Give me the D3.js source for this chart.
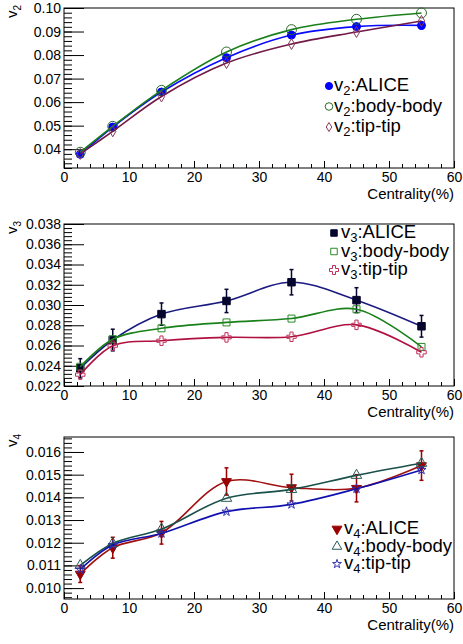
<!DOCTYPE html>
<html>
<head>
<meta charset="utf-8">
<script src="https://cdn.jsdelivr.net/npm/d3@7"></script>
<style>
body { margin: 0; background: #fff; }
svg { display: block; font-family: "Liberation Sans", Arial, sans-serif; }
</style>
</head>
<body>
<div id="chart"></div>
<script>
// Centrality bins (%)
const centrality = [2.5, 7.5, 15, 25, 35, 45, 55];

// v2
const v2Alice    = [0.0378, 0.0494, 0.0643, 0.0789, 0.0885, 0.0921, 0.0926];
const v2AliceErr = [0.0007, 0.0007, 0.0008, 0.0009, 0.0010, 0.0010, 0.0015];
const v2Body     = [0.0387, 0.0497, 0.0650, 0.0813, 0.0908, 0.0952, 0.0979];
const v2Tip      = [0.0380, 0.0476, 0.0624, 0.0766, 0.0847, 0.0898, 0.0945];

// v3
const v3Alice    = [0.02375, 0.02654, 0.02910, 0.03040, 0.03225, 0.03048, 0.02790];
const v3AliceErr = [0.00095, 0.00107, 0.00110, 0.00115, 0.00125, 0.00123, 0.00107];
const v3Body     = [0.02390, 0.02662, 0.02770, 0.02828, 0.02866, 0.02958, 0.02586];
const v3Tip      = [0.02312, 0.02598, 0.02647, 0.02680, 0.02686, 0.02804, 0.02533];

// v4
const v4Alice    = [0.01062, 0.01178, 0.01244, 0.01470, 0.01443, 0.01440, 0.01540];
const v4AliceErr = [0.00037, 0.00046, 0.00050, 0.00060, 0.00059, 0.00060, 0.00065];
const v4Body     = [0.01100, 0.01197, 0.01260, 0.01396, 0.01435, 0.01497, 0.01550];
const v4Tip      = [0.01082, 0.01190, 0.01241, 0.01337, 0.01369, 0.01438, 0.01521];

const xTicks = [0, 10, 20, 30, 40, 50, 60];
const xMinor = d3.range(0, 31).map(d => d * 2);

const W = 463, H = 644;
const svg = d3.select("#chart")
  .append("svg")
  .attr("width", W)
  .attr("height", H);

const x = d3.scaleLinear().domain([0, 60]).range([64, 454]);

// marker shapes
const sym = (type, size) => d3.symbol().type(type).size(size)();
const diamond = "M0,-5.5L3.2,0L0,5.5L-3.2,0Z";

const panels = [
  {
    n: "2", top: 8, bottom: 168, domain: [0.032, 0.1],
    major: d3.range(4, 11).map(d => d / 100),
    minor: d3.range(16, 51).map(d => d * 0.002),
    fmt: ".2f",
    legend: { mx: 329, tx: 334, y: 91, dy: 20.5 },
    series: [
      { label: "ALICE", values: v2Alice, err: v2AliceErr, color: "#0000ff", line: "#0a0aff",
        path: sym(d3.symbolCircle, 50), fill: true, lpath: sym(d3.symbolCircle, 40) },
      { label: "body-body", values: v2Body, color: "#2a6a2a", line: "#1a801a",
        path: sym(d3.symbolCircle, 78), fill: false, lpath: sym(d3.symbolCircle, 45) },
      { label: "tip-tip", values: v2Tip, color: "#8a3a5a", line: "#701a48",
        path: diamond, fill: false, lpath: "M0,-4.5L2.8,0L0,4.5L-2.8,0Z" }
    ]
  },
  {
    n: "3", top: 224, bottom: 386, domain: [0.022, 0.038],
    major: d3.range(11, 20).map(d => d * 0.002),
    minor: d3.range(55, 96).map(d => d * 0.0004),
    fmt: ".3f",
    legend: { mx: 334, tx: 341, y: 238, dy: 18.5 },
    series: [
      { label: "ALICE", values: v3Alice, err: v3AliceErr, color: "#05052e", line: "#1a1a80",
        path: sym(d3.symbolSquare, 56), fill: true, lpath: sym(d3.symbolSquare, 42) },
      { label: "body-body", values: v3Body, color: "#2a8a2a", line: "#1a801a",
        path: sym(d3.symbolSquare, 49), fill: false, lpath: sym(d3.symbolSquare, 42) },
      { label: "tip-tip", values: v3Tip, color: "#c0305a", line: "#b01040",
        path: sym(d3.symbolCross, 50), fill: false, lpath: sym(d3.symbolCross, 45) }
    ]
  },
  {
    n: "4", top: 437, bottom: 599, domain: [0.00952, 0.01666],
    major: d3.range(10, 17).map(d => d / 1000),
    minor: d3.range(48, 84).map(d => d * 0.0002),
    fmt: ".3f",
    legend: { mx: 337, tx: 344, y: 534, dy: 17.5 },
    series: [
      { label: "ALICE", values: v4Alice, err: v4AliceErr, color: "#990000", line: "#a01010",
        path: sym(d3.symbolTriangle, 42), fill: true, rot: 180, lpath: sym(d3.symbolTriangle, 42) },
      { label: "body-body", values: v4Body, color: "#2a5a55", line: "#1a504a",
        path: sym(d3.symbolTriangle, 48), fill: false, lpath: sym(d3.symbolTriangle, 40) },
      { label: "tip-tip", values: v4Tip, color: "#3030b0", line: "#1010b0",
        path: sym(d3.symbolStar, 26), fill: false, lpath: sym(d3.symbolStar, 24) }
    ]
  }
];

panels.forEach(p => {
  const y = d3.scaleLinear().domain(p.domain).range([p.bottom, p.top]);
  const g = svg.append("g");

  // frame
  g.append("rect")
    .attr("x", x(0)).attr("y", p.top)
    .attr("width", x(60) - x(0)).attr("height", p.bottom - p.top)
    .attr("fill", "none").attr("stroke", "#000").attr("stroke-width", 1);

  // y minor ticks
  g.append("g")
    .attr("transform", `translate(${x(0)},0)`)
    .call(d3.axisLeft(y).tickValues(p.minor.filter(v => v >= p.domain[0] - 1e-9 && v <= p.domain[1] + 1e-9))
      .tickSize(-8).tickFormat(""))
    .call(a => a.select(".domain").remove());

  // y major ticks
  g.append("g")
    .attr("transform", `translate(${x(0)},0)`)
    .call(d3.axisLeft(y).tickValues(p.major).tickSizeInner(-20).tickSizeOuter(0)
      .tickPadding(3).tickFormat(d3.format(p.fmt)))
    .call(a => a.select(".domain").remove())
    .call(a => a.selectAll("text").attr("font-size", 14).attr("font-family", "Liberation Sans, Arial, sans-serif").attr("fill", "#000"));

  // x minor ticks
  g.append("g")
    .attr("transform", `translate(0,${p.bottom})`)
    .call(d3.axisBottom(x).tickValues(xMinor).tickSize(-4).tickFormat(""))
    .call(a => a.select(".domain").remove());

  // x major ticks
  g.append("g")
    .attr("transform", `translate(0,${p.bottom})`)
    .call(d3.axisBottom(x).tickValues(xTicks).tickSizeInner(-7).tickSizeOuter(0).tickPadding(4))
    .call(a => a.select(".domain").remove())
    .call(a => a.selectAll("text").attr("font-size", 14).attr("font-family", "Liberation Sans, Arial, sans-serif").attr("fill", "#000"));

  // x title
  g.append("text")
    .attr("x", x(60)).attr("y", p.bottom + 31)
    .attr("text-anchor", "end")
    .attr("font-size", 15)
    .text("Centrality(%)");

  // y title
  const yt = g.append("text")
    .attr("transform", `translate(17,${p.top - 3}) rotate(-90)`)
    .attr("text-anchor", "end")
    .attr("font-size", 15);
  yt.append("tspan").text("v");
  yt.append("tspan").attr("font-size", 10).attr("dy", 4).text(p.n);

  // lines, error bars, markers
  p.series.forEach(s => {
    const pts = centrality.map((c, i) => ({ c, v: s.values[i], e: s.err ? s.err[i] : 0 }));

    g.append("path")
      .datum(pts)
      .attr("fill", "none")
      .attr("stroke", s.line)
      .attr("stroke-width", 1.6)
      .attr("d", d3.line().x(d => x(d.c)).y(d => y(d.v)).curve(d3.curveCatmullRom.alpha(0.5)));

    if (s.err) {
      const eb = g.append("g").selectAll("g").data(pts).join("g")
        .attr("stroke", s.color).attr("stroke-width", 1.5);
      eb.append("line")
        .attr("x1", d => x(d.c)).attr("x2", d => x(d.c))
        .attr("y1", d => y(d.v - d.e)).attr("y2", d => y(d.v + d.e));
      eb.append("line")
        .attr("x1", d => x(d.c) - 2).attr("x2", d => x(d.c) + 2)
        .attr("y1", d => y(d.v - d.e)).attr("y2", d => y(d.v - d.e));
      eb.append("line")
        .attr("x1", d => x(d.c) - 2).attr("x2", d => x(d.c) + 2)
        .attr("y1", d => y(d.v + d.e)).attr("y2", d => y(d.v + d.e));
    }

    g.append("g").selectAll("path").data(pts).join("path")
      .attr("d", s.path)
      .attr("transform", d => `translate(${x(d.c)},${y(d.v)})` + (s.rot ? ` rotate(${s.rot})` : ""))
      .attr("fill", s.fill ? s.color : "none")
      .attr("stroke", s.color)
      .attr("stroke-width", 1);
  });

  // legend
  const lg = g.append("g");
  p.series.forEach((s, i) => {
    const by = p.legend.y + i * p.legend.dy;
    lg.append("path")
      .attr("d", s.lpath)
      .attr("transform", `translate(${p.legend.mx},${by - 5})` + (s.rot ? ` rotate(${s.rot})` : ""))
      .attr("fill", s.fill ? s.color : "none")
      .attr("stroke", s.color)
      .attr("stroke-width", 1);
    const t = lg.append("text")
      .attr("x", p.legend.tx).attr("y", by)
      .attr("font-size", 18.5);
    t.append("tspan").text("v");
    t.append("tspan").attr("font-size", 13).attr("dy", 4).text(p.n);
    t.append("tspan").attr("dy", -4).text(":" + s.label);
  });
});
</script>
</body>
</html>
